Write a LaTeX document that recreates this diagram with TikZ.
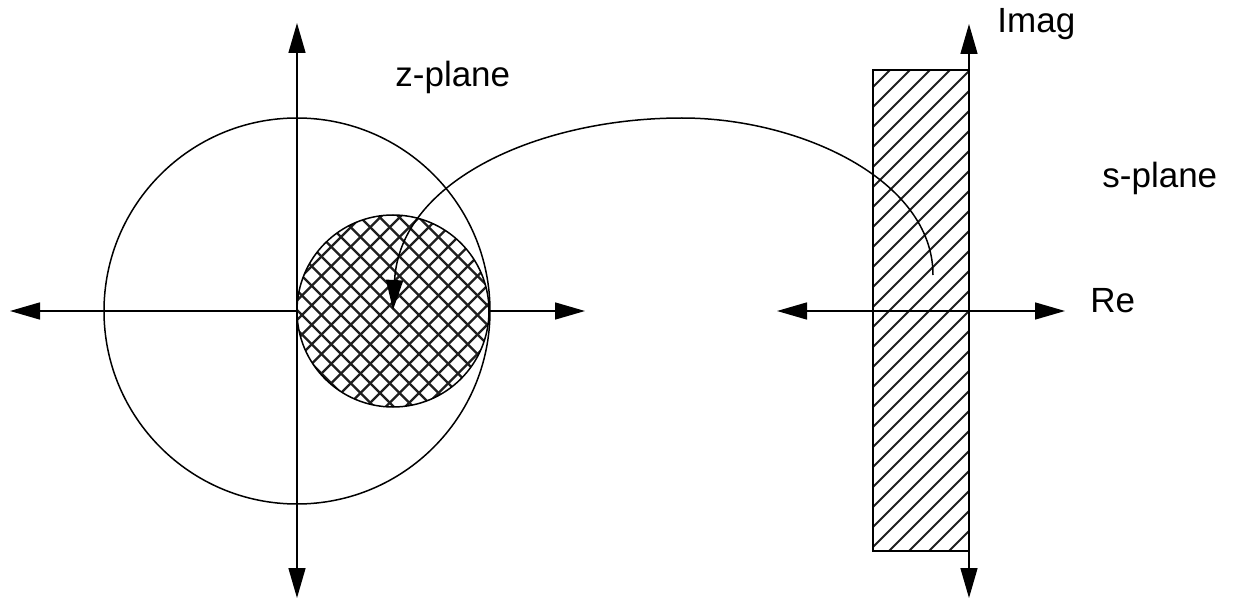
\documentclass[tikz,border=0pt]{standalone}
\usepackage{fontspec}
\setmainfont{Liberation Sans}
\usetikzlibrary{arrows.meta}

\begin{document}
\begin{tikzpicture}[x=0.5pt,y=-0.5pt,>={Triangle[length=15pt,width=8.5pt]}]
\tikzstyle{axis}=[line width=0.75pt,<->]
\tikzstyle{rim}=[line width=0.75pt]
\tikzstyle{hatch}=[line width=1pt,black!88]
\tikzstyle{lbl}=[anchor=base west,inner sep=0pt,font=\fontsize{17.5}{21}\selectfont]
\useasboundingbox (0,0) rectangle (1233,599);

% z-plane
\coordinate (zw) at (10,311);
\coordinate (ze) at (585,311);
\coordinate (zn) at (297,23);
\coordinate (zs) at (297,598);
\coordinate (zo) at (297,311);
\coordinate (zc) at (393,311);
\draw[axis] (zw) -- (ze);
\draw[axis] (zn) -- (zs);
\draw[rim] (zo) circle[radius=193];

% cross-hatched disc
\fill[white] (zc) circle[radius=96];
\begin{scope}
\clip (zc) circle[radius=96];
\foreach \c in {500,519.5,...,910}
  \draw[hatch,line width=1.15pt] ({\c-200},200) -- ({\c-420},420);
\foreach \c in {-130,-110.5,...,290}
  \draw[hatch,line width=1.15pt] ({\c+200},200) -- ({\c+420},420);
\end{scope}
\draw[rim] (zc) circle[radius=96];

% s-plane
\coordinate (sw) at (777,311);
\coordinate (se) at (1065,311);
\coordinate (sn) at (969,24);
\coordinate (ss) at (969,598);
\coordinate (rtl) at (873,70);
\coordinate (rbr) at (969,551);
\begin{scope}
\clip (rtl) rectangle (rbr);
\foreach \c in {940,960,...,1520}
  \draw[hatch] ({\c-60},60) -- ({\c-560},560);
\end{scope}
\draw[line width=0.75pt] (rtl) rectangle (rbr);
\draw[axis] (sw) -- (se);
\draw[axis] (sn) -- (ss);

% mapping
\coordinate (ms) at (933,275);
\coordinate (mt) at (682,118);
\coordinate (me) at (393,310);
\draw[rim,->] (ms) .. controls (933,180) and (800,118) .. (mt)
  .. controls (540,118) and (400,180) .. (me);

% labels
\node[lbl] (zname) at (395,87) {z-plane};
\node[lbl] (imname) at (997,33) {Imag};
\node[lbl] (sname) at (1102,188) {s-plane};
\node[lbl] (rename) at (1090,313) {Re};

\end{tikzpicture}
\end{document}
